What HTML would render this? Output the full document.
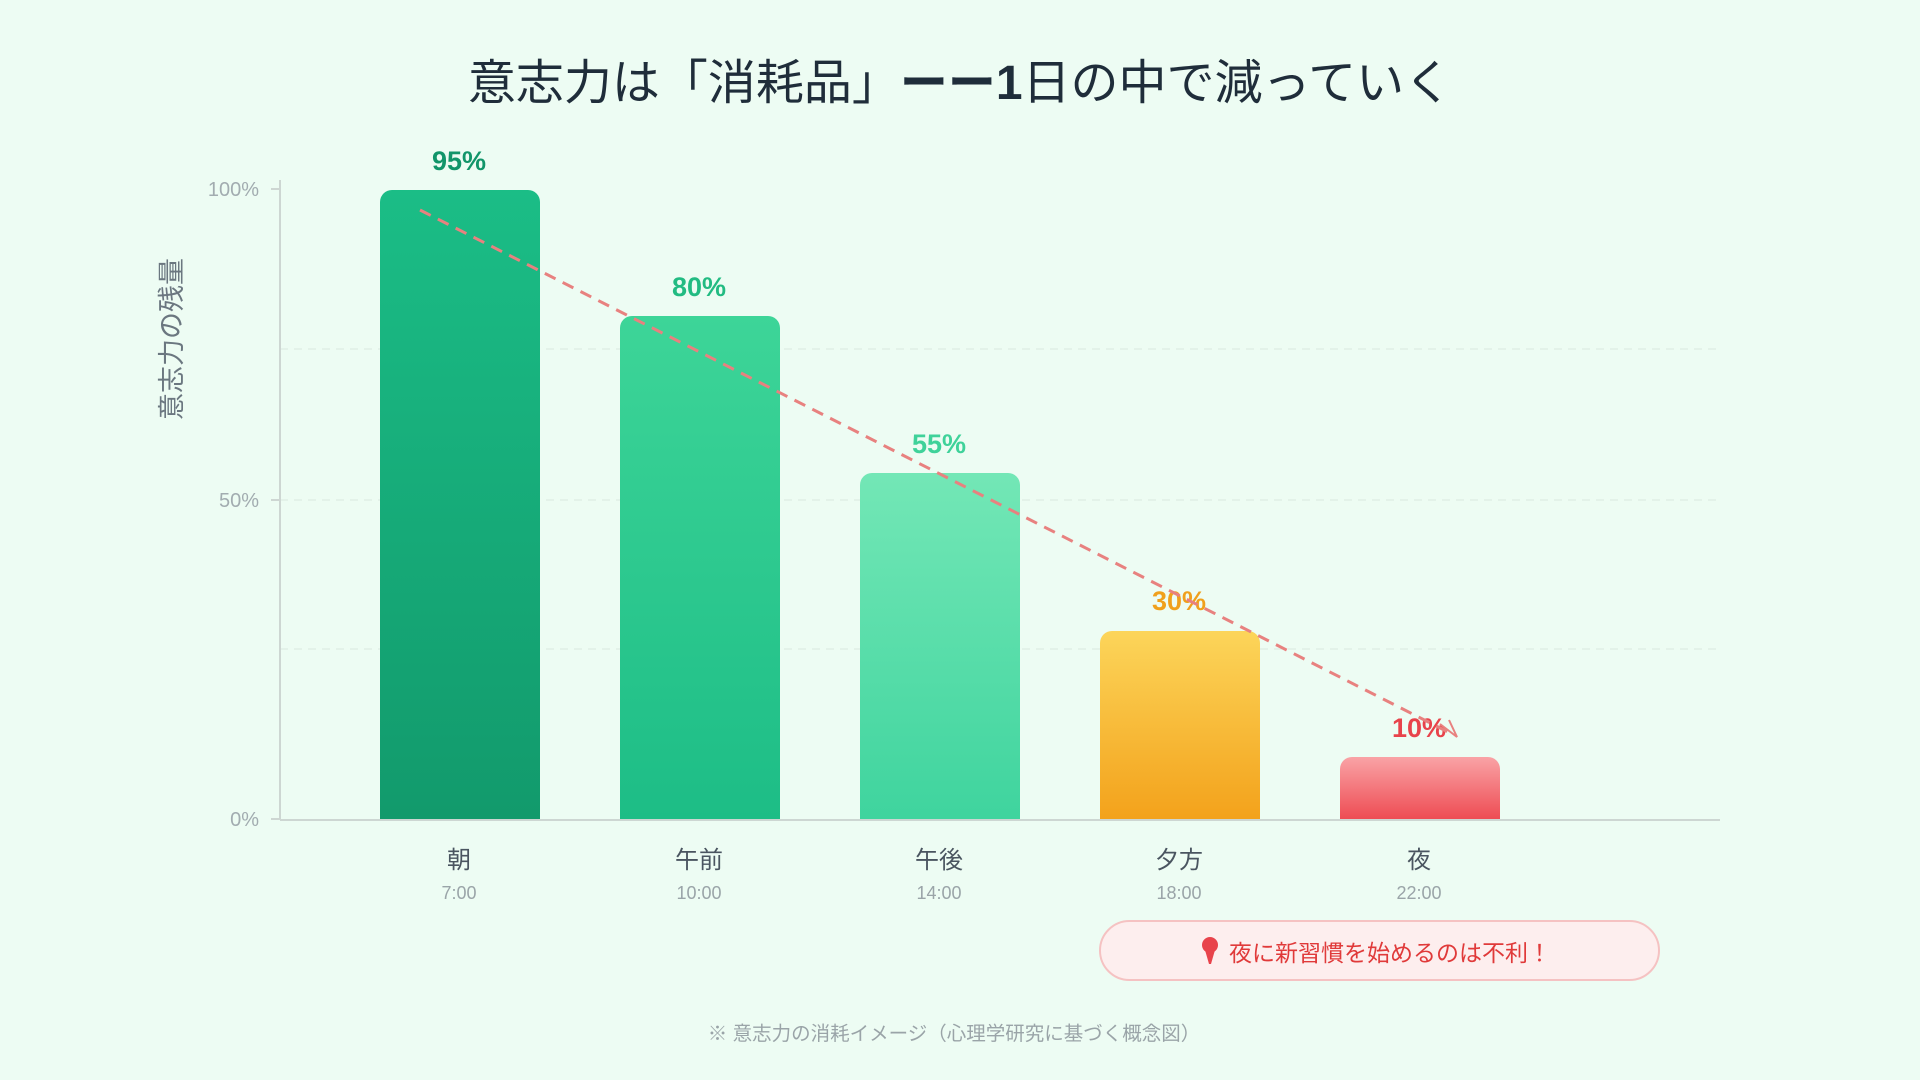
<!DOCTYPE html>
<html><head><meta charset="utf-8"><style>
html,body{margin:0;padding:0;background:#edfcf3;}
svg{display:block;font-family:"Liberation Sans","Noto Sans CJK JP",sans-serif;}
</style></head><body>
<svg width="1920" height="1080" viewBox="0 0 1920 1080" xmlns="http://www.w3.org/2000/svg">
<defs>
<linearGradient id="g1" x1="0" y1="0" x2="0" y2="1"><stop offset="0" stop-color="#1bbd86"/><stop offset="1" stop-color="#129a6c"/></linearGradient>
<linearGradient id="g2" x1="0" y1="0" x2="0" y2="1"><stop offset="0" stop-color="#3dd598"/><stop offset="1" stop-color="#1dbd86"/></linearGradient>
<linearGradient id="g3" x1="0" y1="0" x2="0" y2="1"><stop offset="0" stop-color="#73e7b6"/><stop offset="1" stop-color="#3fd49e"/></linearGradient>
<linearGradient id="g4" x1="0" y1="0" x2="0" y2="1"><stop offset="0" stop-color="#fcd55a"/><stop offset="1" stop-color="#f3a21b"/></linearGradient>
<linearGradient id="g5" x1="0" y1="0" x2="0" y2="1"><stop offset="0" stop-color="#f9a3a6"/><stop offset="1" stop-color="#ee4c53"/></linearGradient>
</defs>
<rect width="1920" height="1080" fill="#edfcf3"/>
<text x="960" y="99" text-anchor="middle" font-size="48" fill="#1f2d3a">意志力は「消耗品」<tspan font-weight="bold">ーー1</tspan>日の中で減っていく</text>

<g stroke="#e0efe6" stroke-width="1.5" stroke-dasharray="8 6">
<line x1="280" y1="349" x2="1719" y2="349"/>
<line x1="280" y1="500" x2="1719" y2="500"/>
<line x1="280" y1="649" x2="1719" y2="649"/>
</g>
<line x1="280" y1="180" x2="280" y2="820" stroke="#cdd6d2" stroke-width="2"/>
<line x1="280" y1="820" x2="1720" y2="820" stroke="#cdd6d2" stroke-width="2"/>
<g stroke="#cdd6d2" stroke-width="2">
<line x1="271" y1="189" x2="280" y2="189"/><line x1="271" y1="500" x2="280" y2="500"/><line x1="271" y1="819" x2="280" y2="819"/>
</g>
<g font-size="20" fill="#a2acb0" text-anchor="end">
<text x="259" y="196">100%</text><text x="259" y="507">50%</text><text x="259" y="826">0%</text>
</g>
<text transform="translate(181,339) rotate(-90)" text-anchor="middle" font-size="27" fill="#6b7780">意志力の残量</text>

<path d="M380 819 V202 a12 12 0 0 1 12 -12 H528 a12 12 0 0 1 12 12 V819 Z" fill="url(#g1)"/>
<path d="M620 819 V328 a12 12 0 0 1 12 -12 H768 a12 12 0 0 1 12 12 V819 Z" fill="url(#g2)"/>
<path d="M860 819 V485 a12 12 0 0 1 12 -12 H1008 a12 12 0 0 1 12 12 V819 Z" fill="url(#g3)"/>
<path d="M1100 819 V643 a12 12 0 0 1 12 -12 H1248 a12 12 0 0 1 12 12 V819 Z" fill="url(#g4)"/>
<path d="M1340 819 V769 a12 12 0 0 1 12 -12 H1488 a12 12 0 0 1 12 12 V819 Z" fill="url(#g5)"/>

<g font-size="27" font-weight="bold" text-anchor="middle">
<text x="459" y="170" fill="#12956a">95%</text>
<text x="699" y="296" fill="#22bb82">80%</text>
<text x="939" y="453" fill="#3fd29a">55%</text>
<text x="1179" y="610" fill="#f0a01c">30%</text>
<text x="1419" y="737" fill="#e8434b">10%</text>
</g>

<line x1="420" y1="210" x2="1452" y2="734" stroke="#e8817f" stroke-width="3" stroke-dasharray="12 8"/>
<path d="M1440 724 L1457 737 L1449 720" fill="none" stroke="#e8817f" stroke-width="2"/>

<g text-anchor="middle">
<g font-size="24" fill="#4a5560">
<text x="459" y="868">朝</text><text x="699" y="868">午前</text><text x="939" y="868">午後</text><text x="1179" y="868">夕方</text><text x="1419" y="868">夜</text>
</g>
<g font-size="18" fill="#9aa4a8">
<text x="459" y="899">7:00</text><text x="699" y="899">10:00</text><text x="939" y="899">14:00</text><text x="1179" y="899">18:00</text><text x="1419" y="899">22:00</text>
</g>
</g>

<rect x="1100" y="921" width="559" height="59" rx="29.5" fill="#fdeeee" stroke="#f5c2c2" stroke-width="2"/>
<circle cx="1210" cy="945" r="8" fill="#e8434b"/>
<path d="M1205 950 L1215 950 L1211 964 L1209 964 Z" fill="#e8434b"/>
<text x="1390" y="961" text-anchor="middle" font-size="23" fill="#e03a3a">夜に新習慣を始めるのは不利！</text>

<text x="954" y="1040" text-anchor="middle" font-size="19.5" fill="#9aa4a8">※ 意志力の消耗イメージ（心理学研究に基づく概念図）</text>
</svg>
</body></html>
